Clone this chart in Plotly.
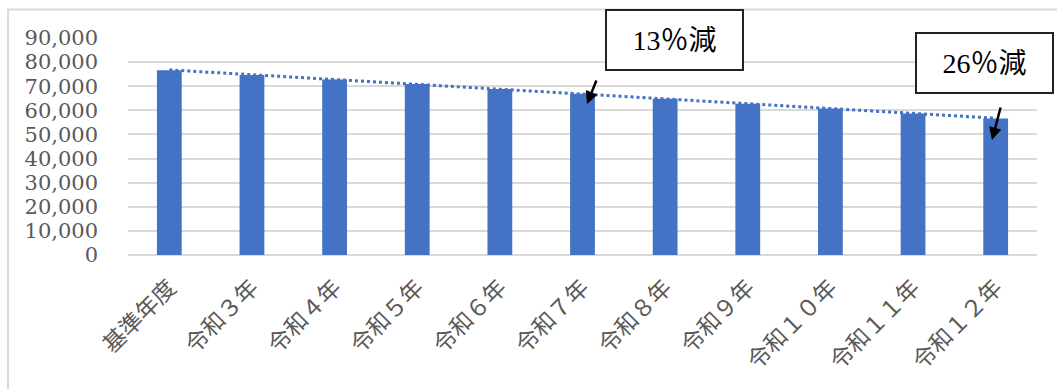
import numpy as np
import plotly.graph_objects as go

categories = ["基準年度", "令和３年", "令和４年", "令和５年", "令和６年", "令和７年",
              "令和８年", "令和９年", "令和１０年", "令和１１年", "令和１２年"]
values = [76600, 74700, 72800, 70900, 68800, 66900, 64800, 62700, 60800, 58700, 56600]
y_ticks = [0, 10000, 20000, 30000, 40000, 50000, 60000, 70000, 80000, 90000]
y_tick_labels = ["0", "10,000", "20,000", "30,000", "40,000", "50,000",
                 "60,000", "70,000", "80,000", "90,000"]
note_texts = ["13％減", "26％減"]

BLUE = "#4472C4"
GRID = "#d9d9d9"
TXT = "#595959"
FONT = "Liberation Serif, Noto Sans CJK JP, serif"
FONT_Y = "DejaVu Serif, Liberation Serif, serif"

# Linear trendline (least squares) fitted to the bar values
idx = np.arange(len(values))
slope, intercept = np.polyfit(idx, values, 1)
trend = slope * idx + intercept

W, H = 1057, 389
L, R, T, B = 128, 20, 38, 134
pw, ph = W - L - R, H - T - B


def px(x):
    return (x - L) / pw


def py(y):
    return (H - B - y) / ph


fig = go.Figure()
fig.add_trace(go.Bar(x=categories, y=values, marker=dict(color=BLUE, line=dict(width=0)),
                     showlegend=False, hoverinfo="x+y"))
fig.add_trace(go.Scatter(x=categories, y=trend, mode="lines",
                         line=dict(color=BLUE, width=3, dash="dot"),
                         showlegend=False, hoverinfo="skip"))

annotations = [
    # text boxes
    dict(xref="paper", yref="paper", x=px(674.5), y=py(40), text=note_texts[0],
         showarrow=False, xanchor="center", yanchor="middle", width=135, height=58,
         bgcolor="white", bordercolor="#222222", borderwidth=2, borderpad=0,
         font=dict(family=FONT, size=28, color="black")),
    dict(xref="paper", yref="paper", x=px(984.5), y=py(62.5), text=note_texts[1],
         showarrow=False, xanchor="center", yanchor="middle", width=135, height=58,
         bgcolor="white", bordercolor="#222222", borderwidth=2, borderpad=0,
         font=dict(family=FONT, size=28, color="black")),
    # arrows
    dict(xref="paper", yref="paper", x=px(587), y=py(104), ax=10, ay=-25, text="",
         showarrow=True, arrowhead=2, arrowsize=1, arrowwidth=2.5, arrowcolor="black"),
    dict(xref="paper", yref="paper", x=px(992), y=py(140), ax=9, ay=-34, text="",
         showarrow=True, arrowhead=2, arrowsize=1, arrowwidth=2.5, arrowcolor="black"),
]

shapes = [
    dict(type="rect", xref="paper", yref="paper", x0=px(8), x1=px(1070), y0=py(400), y1=py(9.5),
         line=dict(color=GRID, width=2), fillcolor="rgba(0,0,0,0)", layer="below"),
]

fig.update_layout(
    width=W, height=H,
    margin=dict(l=L, r=R, t=T, b=B, pad=0),
    paper_bgcolor="white", plot_bgcolor="white",
    bargap=0.70,
    font=dict(family=FONT, size=20, color=TXT),
    annotations=annotations,
    shapes=shapes,
    xaxis=dict(
        type="category", tickangle=-45, showgrid=False, zeroline=False,
        showline=False, ticks="outside", ticklen=9, tickcolor="rgba(0,0,0,0)",
        tickfont=dict(family=FONT, size=23, color=TXT),
    ),
    yaxis=dict(
        range=[0, 90000], tickvals=y_ticks, ticktext=y_tick_labels,
        showgrid=True, gridcolor=GRID, gridwidth=2, zeroline=True,
        zerolinecolor=GRID, zerolinewidth=2, showline=False, ticks="",
        tickfont=dict(family=FONT_Y, size=21, color=TXT), ticklabelstandoff=29,
    ),
)

fig.write_html("out.html")
